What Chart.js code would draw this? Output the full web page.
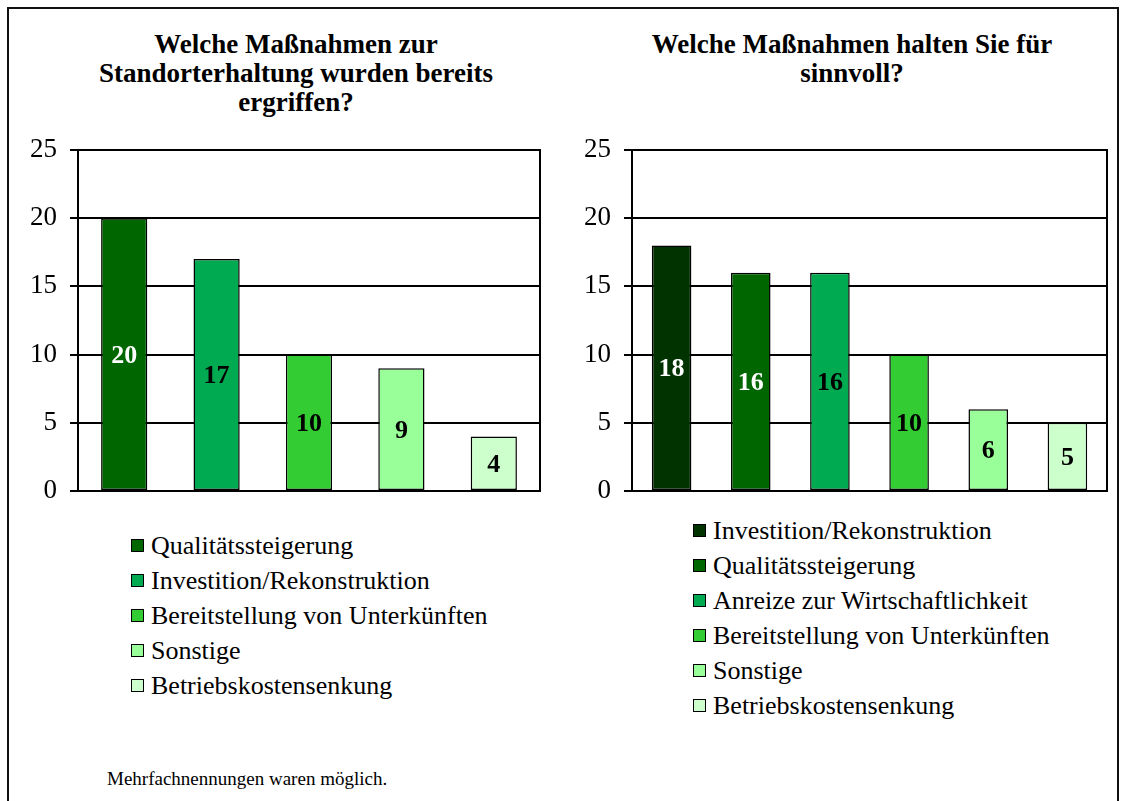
<!DOCTYPE html>
<html>
<head>
<meta charset="utf-8">
<script src="https://cdn.jsdelivr.net/npm/chart.js@4"></script>
<style>
  html, body { margin: 0; padding: 0; background: #fff; overflow: hidden; }
  body { width: 1126px; height: 801px; position: relative; font-family: "Liberation Serif", "Times New Roman", serif; color: #000; }
  .frame { position: absolute; left: 7px; top: 7px; width: 1108px; height: 830px; border: 2px solid #111; }
  .title { position: absolute; font-weight: bold; font-size: 27px; line-height: 29px; text-align: center; white-space: nowrap; transform: translateX(-50%); }
  canvas { position: absolute; }
  .legend { position: absolute; font-size: 26px; }
  .legend .row { height: 35px; line-height: 35px; white-space: nowrap; display: flex; align-items: center; }
  .legend .box { width: 11px; height: 11px; border: 1px solid #000; margin-right: 7px; }
  .note { position: absolute; left: 107px; top: 768px; font-size: 19px; white-space: nowrap; }
</style>
</head>
<body>
<div class="frame"></div>
<div class="title" style="left:296px; top:30px;">Welche Maßnahmen zur<br>Standorterhaltung wurden bereits<br>ergriffen?</div>
<div class="title" style="left:852px; top:30px;">Welche Maßnahmen halten Sie für<br>sinnvoll?</div>
<canvas id="leftChart" width="550" height="380" style="left:10px; top:130px;"></canvas>
<canvas id="rightChart" width="563" height="380" style="left:564px; top:130px;"></canvas>
<div class="legend" id="leftLegend" style="left:131px; top:528px;"></div>
<div class="legend" id="rightLegend" style="left:693px; top:513px;"></div>
<div class="note">Mehrfachnennungen waren möglich.</div>

<script>
// Bereits ergriffene Maßnahmen
const leftLabels = ['Qualitätssteigerung', 'Investition/Rekonstruktion', 'Bereitstellung von Unterkünften', 'Sonstige', 'Betriebskostensenkung'];
const leftValues = [20, 17, 10, 9, 4];
const leftColors = ['#006600', '#00AA50', '#33CC33', '#99FF99', '#CCFFCC'];
const leftLabelColors = ['#ffffff', '#000000', '#000000', '#000000', '#000000'];

// Als sinnvoll erachtete Maßnahmen
const rightLabels = ['Investition/Rekonstruktion', 'Qualitätssteigerung', 'Anreize zur Wirtschaftlichkeit', 'Bereitstellung von Unterkünften', 'Sonstige', 'Betriebskostensenkung'];
const rightValues = [18, 16, 16, 10, 6, 5];
const rightColors = ['#003300', '#006600', '#00AA50', '#33CC33', '#99FF99', '#CCFFCC'];
const rightLabelColors = ['#ffffff', '#ffffff', '#000000', '#000000', '#000000', '#000000'];

const yMax = 25;
const yStep = 5;

const FONT = '"Liberation Serif", "Times New Roman", serif';

// Rahmen um die Zeichenfläche
const plotFrame = {
    id: 'plotFrame',
    beforeDatasetsDraw(chart) {
        const {ctx, chartArea: {left, top, width, height}} = chart;
        ctx.save();
        ctx.strokeStyle = '#000';
        ctx.lineWidth = 2;
        ctx.strokeRect(left, top, width, height);
        ctx.restore();
    }
};

// Werte mittig in die Balken schreiben
const barValues = {
    id: 'barValues',
    afterDatasetsDraw(chart, args, options) {
        const {ctx} = chart;
        const meta = chart.getDatasetMeta(0);
        const values = chart.data.datasets[0].data;
        ctx.save();
        ctx.font = 'bold 26px ' + FONT;
        ctx.textAlign = 'center';
        ctx.textBaseline = 'middle';
        meta.data.forEach((bar, i) => {
            ctx.fillStyle = options.colors[i];
            ctx.fillText(String(values[i]), bar.x, (bar.y + bar.base) / 2 + 2);
        });
        ctx.restore();
    }
};

function makeChart(id, labels, values, colors, labelColors) {
    return new Chart(document.getElementById(id), {
        type: 'bar',
        data: {
            labels: labels,
            datasets: [{
                data: values,
                backgroundColor: colors,
                borderColor: '#000',
                borderWidth: 1.5,
                borderSkipped: false,
                barPercentage: 0.5,
                categoryPercentage: 1
            }]
        },
        plugins: [plotFrame, barValues],
        options: {
            responsive: false,
            devicePixelRatio: 1,
            animation: false,
            layout: { padding: { top: 20, right: 20, bottom: 19, left: 0 } },
            scales: {
                x: { display: false },
                y: {
                    min: 0,
                    max: yMax,
                    afterFit(scale) {
                        scale.width = 68;
                        scale.paddingTop = 0;
                        scale.paddingBottom = 0;
                    },
                    border: { display: false },
                    grid: { color: '#000', lineWidth: 2, tickLength: 8, tickColor: '#000' },
                    ticks: {
                        stepSize: yStep,
                        padding: 13,
                        color: '#000',
                        font: { family: FONT, size: 27 }
                    }
                }
            },
            plugins: {
                legend: { display: false },
                tooltip: { enabled: false },
                barValues: { colors: labelColors }
            }
        }
    });
}

function makeLegend(id, labels, colors) {
    const el = document.getElementById(id);
    labels.forEach((text, i) => {
        const row = document.createElement('div');
        row.className = 'row';
        const box = document.createElement('span');
        box.className = 'box';
        box.style.background = colors[i];
        const label = document.createElement('span');
        label.textContent = text;
        row.appendChild(box);
        row.appendChild(label);
        el.appendChild(row);
    });
}

makeChart('leftChart', leftLabels, leftValues, leftColors, leftLabelColors);
makeChart('rightChart', rightLabels, rightValues, rightColors, rightLabelColors);
makeLegend('leftLegend', leftLabels, leftColors);
makeLegend('rightLegend', rightLabels, rightColors);
</script>
</body>
</html>
